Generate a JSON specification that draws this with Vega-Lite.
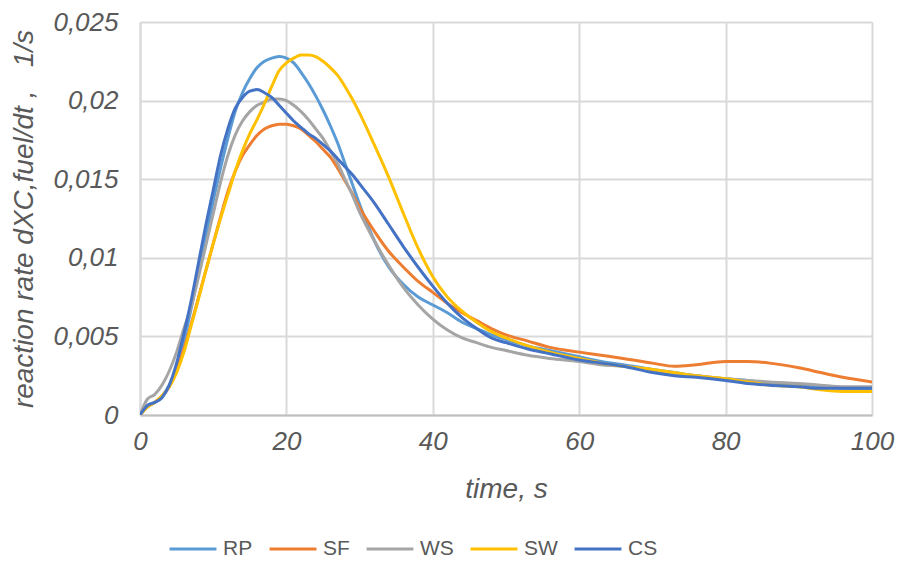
{
  "$schema": "https://vega.github.io/schema/vega-lite/v6.json",
  "width": 732,
  "height": 393,
  "autosize": "none",
  "padding": {"left": 140, "top": 22, "right": 26, "bottom": 157},
  "background": "white",
  "config": {
    "view": {"stroke": null},
    "font": "Liberation Sans",
    "axis": {
      "labelFont": "Liberation Sans",
      "labelFontStyle": "italic",
      "labelFontSize": 26,
      "labelColor": "#595959",
      "titleFont": "Liberation Sans",
      "titleFontStyle": "italic",
      "titleFontWeight": "normal",
      "titleFontSize": 28,
      "titleColor": "#595959",
      "gridColor": "#D9D9D9",
      "gridWidth": 2,
      "ticks": false,
      "tickSize": 0
    },
    "legend": {
      "labelFont": "Liberation Sans",
      "labelFontSize": 21,
      "labelColor": "#595959",
      "symbolStrokeWidth": 3,
      "symbolType": "stroke"
    }
  },
  "data": {
    "values": [
      {"t": 0, "RP": 0, "SF": 0, "WS": 0, "SW": 0, "CS": 0},
      {"t": 1, "RP": 0.0006, "SF": 0.0005, "WS": 0.001, "SW": 0.0005, "CS": 0.0006},
      {"t": 2, "RP": 0.0008, "SF": 0.0008, "WS": 0.0013, "SW": 0.0008, "CS": 0.0008},
      {"t": 3, "RP": 0.0012, "SF": 0.0012, "WS": 0.0019, "SW": 0.0012, "CS": 0.0011},
      {"t": 4, "RP": 0.0019, "SF": 0.0018, "WS": 0.0028, "SW": 0.0018, "CS": 0.0019},
      {"t": 5, "RP": 0.003, "SF": 0.0028, "WS": 0.004, "SW": 0.0027, "CS": 0.0033},
      {"t": 6, "RP": 0.0047, "SF": 0.0042, "WS": 0.0055, "SW": 0.004, "CS": 0.0052},
      {"t": 7, "RP": 0.0068, "SF": 0.0058, "WS": 0.0069, "SW": 0.0057, "CS": 0.0073},
      {"t": 8, "RP": 0.009, "SF": 0.0075, "WS": 0.0088, "SW": 0.0074, "CS": 0.0097},
      {"t": 9, "RP": 0.0113, "SF": 0.0092, "WS": 0.0108, "SW": 0.0092, "CS": 0.0121},
      {"t": 10, "RP": 0.0136, "SF": 0.0109, "WS": 0.0128, "SW": 0.0109, "CS": 0.0143},
      {"t": 11, "RP": 0.0157, "SF": 0.0126, "WS": 0.0148, "SW": 0.0125, "CS": 0.0165},
      {"t": 12, "RP": 0.0176, "SF": 0.0142, "WS": 0.0165, "SW": 0.014, "CS": 0.0182},
      {"t": 13, "RP": 0.0193, "SF": 0.0155, "WS": 0.0178, "SW": 0.0155, "CS": 0.0195},
      {"t": 14, "RP": 0.0205, "SF": 0.0165, "WS": 0.0187, "SW": 0.0168, "CS": 0.0202},
      {"t": 15, "RP": 0.0214, "SF": 0.0172, "WS": 0.0193, "SW": 0.0179, "CS": 0.0206},
      {"t": 16, "RP": 0.0221, "SF": 0.0178, "WS": 0.0197, "SW": 0.0188, "CS": 0.0207},
      {"t": 17, "RP": 0.0225, "SF": 0.0182, "WS": 0.0199, "SW": 0.0198, "CS": 0.0205},
      {"t": 18, "RP": 0.0227, "SF": 0.0184, "WS": 0.0201, "SW": 0.0209, "CS": 0.0202},
      {"t": 19, "RP": 0.0228, "SF": 0.0185, "WS": 0.0201, "SW": 0.0219, "CS": 0.0197},
      {"t": 20, "RP": 0.0227, "SF": 0.0185, "WS": 0.02, "SW": 0.0224, "CS": 0.0192},
      {"t": 21, "RP": 0.0224, "SF": 0.0184, "WS": 0.0197, "SW": 0.0227, "CS": 0.0187},
      {"t": 22, "RP": 0.0218, "SF": 0.0182, "WS": 0.0193, "SW": 0.0229, "CS": 0.0183},
      {"t": 23, "RP": 0.0211, "SF": 0.0178, "WS": 0.0188, "SW": 0.0229, "CS": 0.0179},
      {"t": 24, "RP": 0.0203, "SF": 0.0174, "WS": 0.0182, "SW": 0.0228, "CS": 0.0176},
      {"t": 25, "RP": 0.0194, "SF": 0.0169, "WS": 0.0176, "SW": 0.0225, "CS": 0.0172},
      {"t": 26, "RP": 0.0184, "SF": 0.0164, "WS": 0.0168, "SW": 0.0221, "CS": 0.0168},
      {"t": 27, "RP": 0.0173, "SF": 0.0157, "WS": 0.016, "SW": 0.0216, "CS": 0.0163},
      {"t": 28, "RP": 0.016, "SF": 0.0149, "WS": 0.015, "SW": 0.0209, "CS": 0.0158},
      {"t": 29, "RP": 0.0147, "SF": 0.0141, "WS": 0.014, "SW": 0.0201, "CS": 0.0153},
      {"t": 30, "RP": 0.0134, "SF": 0.0132, "WS": 0.0129, "SW": 0.0192, "CS": 0.0147},
      {"t": 32, "RP": 0.0111, "SF": 0.0117, "WS": 0.0111, "SW": 0.0172, "CS": 0.0135},
      {"t": 34, "RP": 0.0094, "SF": 0.0104, "WS": 0.0095, "SW": 0.0151, "CS": 0.0121},
      {"t": 36, "RP": 0.0083, "SF": 0.0094, "WS": 0.0081, "SW": 0.0128, "CS": 0.0107},
      {"t": 38, "RP": 0.0075, "SF": 0.0085, "WS": 0.007, "SW": 0.0106, "CS": 0.0094},
      {"t": 40, "RP": 0.007, "SF": 0.0078, "WS": 0.0061, "SW": 0.0088, "CS": 0.0082},
      {"t": 42, "RP": 0.0065, "SF": 0.0071, "WS": 0.0054, "SW": 0.0075, "CS": 0.0071},
      {"t": 44, "RP": 0.0059, "SF": 0.0065, "WS": 0.0049, "SW": 0.0066, "CS": 0.0062},
      {"t": 46, "RP": 0.0055, "SF": 0.006, "WS": 0.0046, "SW": 0.0059, "CS": 0.0055},
      {"t": 48, "RP": 0.0051, "SF": 0.0055, "WS": 0.0043, "SW": 0.0053, "CS": 0.0049},
      {"t": 50, "RP": 0.0048, "SF": 0.0051, "WS": 0.0041, "SW": 0.0049, "CS": 0.0046},
      {"t": 53, "RP": 0.0044, "SF": 0.0047, "WS": 0.0038, "SW": 0.0044, "CS": 0.0042},
      {"t": 56, "RP": 0.0041, "SF": 0.0043, "WS": 0.0036, "SW": 0.004, "CS": 0.0039},
      {"t": 60, "RP": 0.0037, "SF": 0.004, "WS": 0.0034, "SW": 0.0036, "CS": 0.0035},
      {"t": 63, "RP": 0.0034, "SF": 0.0038, "WS": 0.0032, "SW": 0.0033, "CS": 0.0033},
      {"t": 66, "RP": 0.0032, "SF": 0.0036, "WS": 0.0031, "SW": 0.0031, "CS": 0.0031},
      {"t": 70, "RP": 0.0029, "SF": 0.0033, "WS": 0.0028, "SW": 0.0029, "CS": 0.0027},
      {"t": 73, "RP": 0.0027, "SF": 0.0031, "WS": 0.0026, "SW": 0.0027, "CS": 0.0025},
      {"t": 76, "RP": 0.0025, "SF": 0.0032, "WS": 0.0025, "SW": 0.0025, "CS": 0.0024},
      {"t": 80, "RP": 0.0023, "SF": 0.0034, "WS": 0.0023, "SW": 0.0023, "CS": 0.0022},
      {"t": 83, "RP": 0.0022, "SF": 0.0034, "WS": 0.0022, "SW": 0.0021, "CS": 0.002},
      {"t": 86, "RP": 0.002, "SF": 0.0033, "WS": 0.0021, "SW": 0.0019, "CS": 0.0019},
      {"t": 90, "RP": 0.0019, "SF": 0.003, "WS": 0.002, "SW": 0.0018, "CS": 0.0018},
      {"t": 93, "RP": 0.0018, "SF": 0.0027, "WS": 0.0019, "SW": 0.0016, "CS": 0.0017},
      {"t": 96, "RP": 0.0017, "SF": 0.0024, "WS": 0.0018, "SW": 0.0015, "CS": 0.0017},
      {"t": 100, "RP": 0.0017, "SF": 0.0021, "WS": 0.0018, "SW": 0.0015, "CS": 0.0017}
    ]
  },
  "transform": [
    {"fold": ["RP", "SF", "WS", "SW", "CS"], "as": ["series", "rate"]}
  ],
  "mark": {"type": "line", "strokeWidth": 3, "interpolate": "monotone", "clip": true},
  "encoding": {
    "x": {
      "field": "t",
      "type": "quantitative",
      "scale": {"domain": [0, 100], "nice": false},
      "axis": {
        "title": "time, s",
        "values": [0, 20, 40, 60, 80, 100],
        "domainColor": "#BFBFBF",
        "domainWidth": 2,
        "labelPadding": 13,
        "titlePadding": 21,
        "labelFlush": false
      }
    },
    "y": {
      "field": "rate",
      "type": "quantitative",
      "scale": {"domain": [0, 0.025], "nice": false, "zero": true},
      "axis": {
        "title": "reaction rate dXC,fuel/dt ,\u00a0\u00a0\u00a01/s",
        "values": [0, 0.005, 0.01, 0.015, 0.02, 0.025],
        "labelExpr": "replace(toString(datum.value), '.', ',')",
        "domainColor": "#D9D9D9",
        "domainWidth": 2,
        "labelPadding": 22,
        "titlePadding": 14,
        "labelFlush": false
      }
    },
    "color": {
      "field": "series",
      "type": "nominal",
      "sort": ["RP", "SF", "WS", "SW", "CS"],
      "scale": {
        "domain": ["RP", "SF", "WS", "SW", "CS"],
        "range": ["#5B9BD5", "#ED7D31", "#A5A5A5", "#FFC000", "#4472C4"]
      },
      "legend": {
        "title": null,
        "orient": "none",
        "direction": "horizontal",
        "legendX": 28,
        "legendY": 502,
        "symbolSize": 2200,
        "labelOffset": 5,
        "columnPadding": 10
      }
    }
  }
}
